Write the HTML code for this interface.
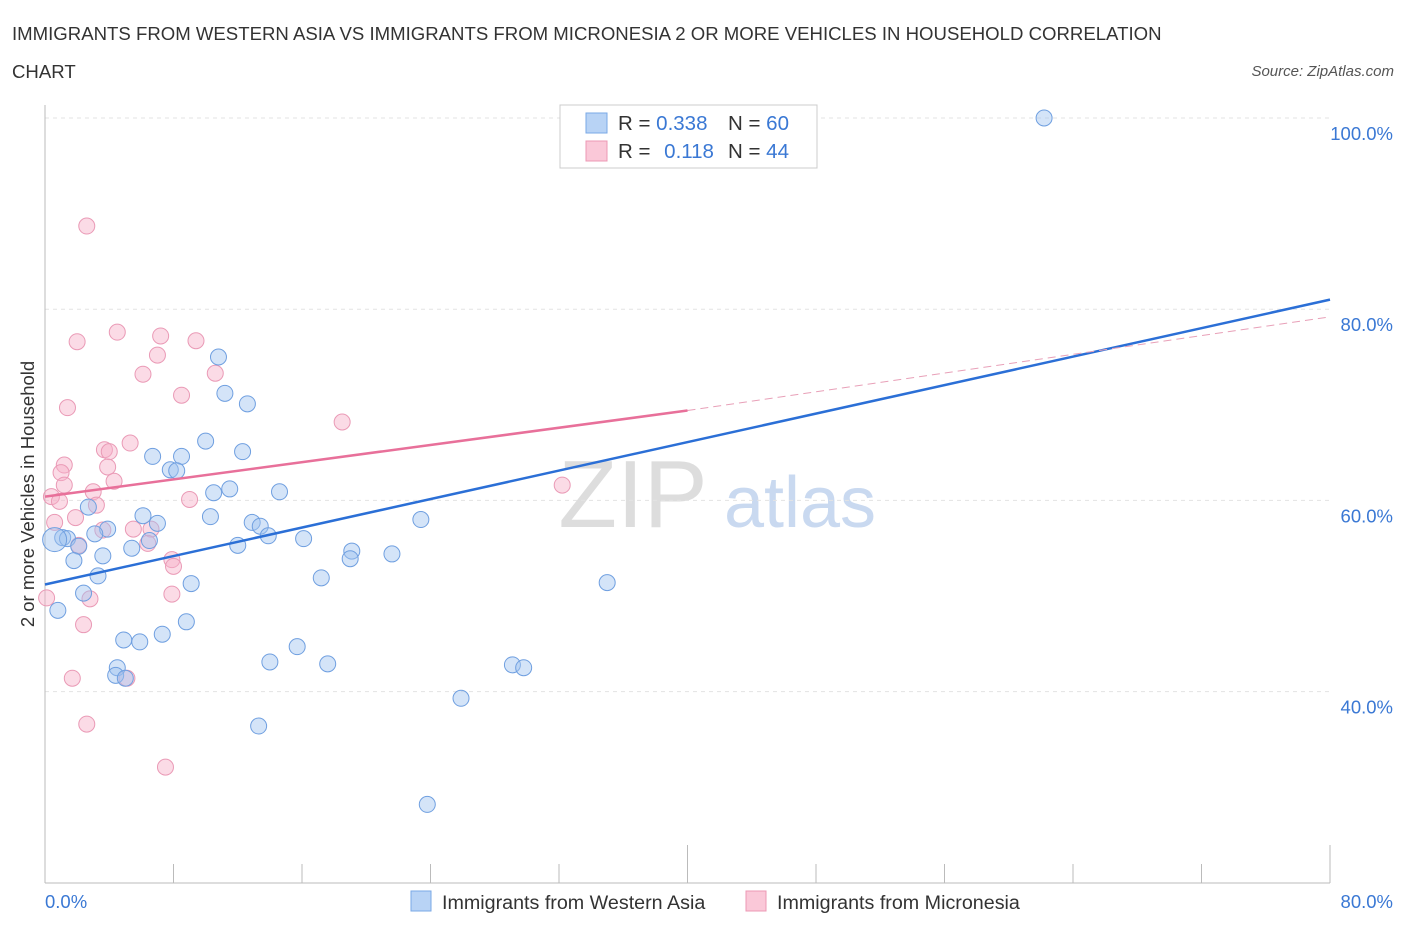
<!DOCTYPE html>
<html><head><meta charset="utf-8"><style>
body{margin:0;background:#fff;font-family:"Liberation Sans",sans-serif;}
svg text{font-family:"Liberation Sans",sans-serif;}
</style></head><body>
<svg id="chart" width="1406" height="930" xmlns="http://www.w3.org/2000/svg">
<text x="12" y="40" font-size="18.6" fill="#333">IMMIGRANTS FROM WESTERN ASIA VS IMMIGRANTS FROM MICRONESIA 2 OR MORE VEHICLES IN HOUSEHOLD CORRELATION</text>
<text x="12" y="78" font-size="18.6" fill="#333">CHART</text>
<text x="1394" y="76" font-size="15" fill="#555" text-anchor="end" font-style="italic">Source: ZipAtlas.com</text>
<text transform="translate(34,494) rotate(-90)" font-size="18.5" fill="#333" text-anchor="middle">2 or more Vehicles in Household</text>
<g>
<text x="633" y="527" font-size="96" fill="#ddd" font-family="Liberation Serif" text-anchor="middle">ZIP</text>
<text x="800" y="527" font-size="72" fill="#c9d9f0" text-anchor="middle">atlas</text>
</g>
<g id="grid"></g><g id="ticks"></g><g id="pts"></g><g id="trend"></g>
<g>
<rect x="560" y="105" width="257" height="63" fill="#fff" stroke="#ccc"/>
<rect x="586" y="113" width="21" height="20" fill="#b8d3f5" stroke="#7aa8e6"/>
<rect x="586" y="141" width="21" height="20" fill="#fac8d8" stroke="#ec98b4"/>
<text x="618" y="130" font-size="20.5" fill="#333">R = <tspan fill="#3a78d4">0.338</tspan></text>
<text x="728" y="130" font-size="20.5" fill="#333">N = <tspan fill="#3a78d4">60</tspan></text>
<text x="618" y="158" font-size="20.5" fill="#333">R = <tspan fill="#3a78d4" dx="8">0.118</tspan></text>
<text x="728" y="158" font-size="20.5" fill="#333">N = <tspan fill="#3a78d4">44</tspan></text>
</g>
<g>
<rect x="411" y="891" width="20" height="20" fill="#b8d3f5" stroke="#7aa8e6"/>
<text x="442" y="909" font-size="19.7" fill="#333">Immigrants from Western Asia</text>
<rect x="746" y="891" width="20" height="20" fill="#fac8d8" stroke="#ec98b4"/>
<text x="777" y="909" font-size="19.7" fill="#333">Immigrants from Micronesia</text>
</g>
</svg>
<script>
const blueX=[62.2,42.3,10.8,11.2,12.6,10.0,12.3,6.7,8.5,7.8,8.2,10.5,11.5,14.6,2.7,6.1,7.0,10.3,12.9,13.4,13.9,3.9,3.1,1.1,1.4,0.6,5.4,6.5,12.0,16.1,19.1,19.0,21.6,23.4,2.1,3.6,1.8,3.3,9.1,17.2,35.0,2.4,0.8,8.8,7.3,4.9,5.9,15.7,14.0,17.6,4.5,4.4,5.0,29.1,29.8,25.9,13.3,23.8];
const blueY=[100.0,100.1,75.0,71.2,70.1,66.2,65.1,64.6,64.6,63.2,63.1,60.8,61.2,60.9,59.3,58.4,57.6,58.3,57.7,57.3,56.3,57.0,56.5,56.1,56.0,55.9,55.0,55.8,55.3,56.0,54.7,53.9,54.4,58.0,55.2,54.2,53.7,52.1,51.3,51.9,51.4,50.3,48.5,47.3,46.0,45.4,45.2,44.7,43.1,42.9,42.5,41.7,41.4,42.8,42.5,39.3,36.4,28.2];
const pinkX=[2.6,4.5,2.0,7.2,9.4,7.0,6.1,10.6,8.5,1.4,18.5,5.3,3.7,4.0,1.2,1.0,3.9,4.3,1.2,3.0,0.4,0.9,3.2,9.0,1.9,0.6,5.5,3.6,6.6,2.1,6.4,7.9,8.0,32.2,2.8,7.9,0.1,2.4,1.7,5.1,2.6,7.5];
const pinkY=[88.7,77.6,76.6,77.2,76.7,75.2,73.2,73.3,71.0,69.7,68.2,66.0,65.3,65.1,63.7,62.9,63.5,62.0,61.6,60.9,60.4,59.9,59.5,60.1,58.2,57.7,57.0,56.9,57.0,55.3,55.5,53.8,53.1,61.6,49.7,50.2,49.8,47.0,41.4,41.4,36.6,32.1];
const blueTrend=[0,51.2,80,81.0];
const pinkTrend=[0,60.4,40,69.4,80,79.2];
const yTicks=[40,60,80,100];
const yTickLabels=["40.0%","60.0%","80.0%","100.0%"];
const xLabels=["0.0%","80.0%"];
const NS="http://www.w3.org/2000/svg";
const X=v=>45+v*(1285/80);
const Y=v=>118+(100-v)*9.56;
function mk(tag,attrs,parent){const e=document.createElementNS(NS,tag);for(const k in attrs)e.setAttribute(k,attrs[k]);document.getElementById(parent).appendChild(e);return e;}
yTicks.forEach((t,i)=>{
 const l=mk('line',{x1:45,x2:1330,y1:Y(t),y2:Y(t),stroke:'#e3e3e3','stroke-dasharray':'4,4'},'grid');
 
 
 const tx=mk('text',{x:1393,y:Y(t)+22,'font-size':18.5,fill:'#3a78d4','text-anchor':'end'},'grid');
 tx.textContent=yTickLabels[i];
 
 
});
const ax=mk('line',{x1:45,x2:1330,y1:883,y2:883,stroke:'#bbb'},'ticks');


const ay=mk('line',{x1:45,x2:45,y1:105,y2:883,stroke:'#bbb'},'ticks');


for(let i=0;i<=10;i++){
 const x=X(i*8);
 const tk=mk('line',{x1:x,x2:x,y1:(i==5||i==10)?845:864,y2:883,stroke:'#bbb'},'ticks');
 
 
}
xLabels.forEach((s,i)=>{
 const tx=mk('text',{x:i?1393:45,y:908,'font-size':18.5,fill:'#3a78d4','text-anchor':i?'end':'start'},'ticks');
 tx.textContent=s;
 
 
});
pinkX.forEach((v,i)=>{
 const c=mk('circle',{cx:X(v),cy:Y(pinkY[i]),r:8,fill:'rgba(246,176,200,0.45)',stroke:'#ea9ab6','stroke-width':1},'pts');
 
 
});
blueX.forEach((v,i)=>{
 const c=mk('circle',{cx:X(v),cy:Y(blueY[i]),r:(i==25)?12:8,fill:'rgba(160,196,240,0.45)',stroke:'#6f9fe0','stroke-width':1},'pts');
 
 
});
const bt=mk('line',{x1:X(blueTrend[0]),y1:Y(blueTrend[1]),x2:X(blueTrend[2]),y2:Y(blueTrend[3]),stroke:'#2b6fd6','stroke-width':2.5},'trend');


const pt=mk('line',{x1:X(pinkTrend[0]),y1:Y(pinkTrend[1]),x2:X(pinkTrend[2]),y2:Y(pinkTrend[3]),stroke:'#e8709a','stroke-width':2.5},'trend');


const pd=mk('line',{x1:X(pinkTrend[2]),y1:Y(pinkTrend[3]),x2:X(pinkTrend[4]),y2:Y(pinkTrend[5]),stroke:'#e8a0b8','stroke-width':1,'stroke-dasharray':'8,5'},'trend');


</script>
</body></html>
